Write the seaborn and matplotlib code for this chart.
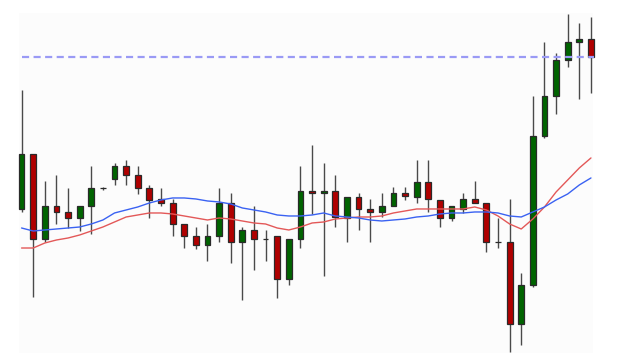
import numpy as np
import pandas as pd
import seaborn as sns
from matplotlib import pyplot as plt

# OHLC candles (arbitrary price units)
opens = [151, 206, 121, 154, 148, 142, 154, 172, 181, 194,
         185, 172, 161, 157, 136, 124, 115, 124, 157, 118,
         130, 121, 124, 81, 121, 169, 167, 169, 142, 163,
         151, 148, 154, 167, 163, 178, 160, 142, 151, 161,
         157, 118, 118, 36, 75, 224, 264, 300, 318, 321]
highs = [270, 206, 179, 185, 172, 154, 194, 173, 197, 200,
         194, 175, 172, 161, 136, 133, 136, 172, 167, 133,
         154, 130, 124, 121, 194, 215, 197, 185, 163, 167,
         161, 167, 173, 173, 200, 200, 160, 154, 167, 179,
         157, 142, 161, 87, 264, 318, 307, 346, 337, 343]
lows = [148, 63, 118, 136, 132, 129, 126, 170, 175, 175,
        166, 142, 154, 124, 112, 111, 99, 118, 97, 60,
        90, 99, 62, 75, 112, 146, 84, 133, 118, 130,
        118, 143, 154, 160, 157, 148, 133, 139, 147, 157,
        108, 112, 8, 15, 73, 222, 246, 293, 261, 267]
closes = [206, 121, 154, 148, 142, 154, 172, 172, 194, 185,
          172, 160, 157, 136, 124, 115, 124, 157, 118, 130,
          121, 121, 81, 121, 169, 167, 169, 143, 163, 151,
          148, 154, 167, 164, 178, 161, 142, 154, 161, 157,
          118, 118, 36, 75, 224, 264, 300, 318, 321, 303]

# two moving averages
ma_blue = [132, 129, 130, 131, 132, 133, 136, 140, 147, 150,
           153, 157, 160, 162, 162, 161, 159, 158, 156, 152,
           150, 148, 145, 144, 144, 145, 147, 144, 143, 142,
           140, 139, 140, 141, 143, 144, 146, 147, 147, 148,
           148, 147, 144, 143, 148, 153, 160, 166, 175, 182]
ma_red = [112, 112, 117, 120, 122, 125, 129, 133, 138, 143,
          145, 147, 147, 146, 144, 142, 140, 142, 141, 139,
          137, 136, 132, 130, 133, 137, 138, 141, 142, 143,
          143, 144, 147, 149, 151, 151, 151, 151, 151, 153,
          150, 144, 136, 131, 141, 153, 168, 180, 192, 202]

level = 303

df = pd.DataFrame({"open": opens, "high": highs, "low": lows, "close": closes,
                   "ma_blue": ma_blue, "ma_red": ma_red})
df["idx"] = np.arange(len(df))

sns.set_style("white")
fig = plt.figure(figsize=(6.18, 3.57), dpi=100)
ax = fig.add_axes([0.030, 0.011, 0.930, 0.953])
ax.set_facecolor("#fcfcfc")

# wicks
ax.vlines(df["idx"], df["low"], df["high"], color="#4a4a4a", lw=1, zorder=2,
          clip_on=False)

# bodies
up = df["close"] >= df["open"]
colors = np.where(up, "#006400", "#b00000")
bottoms = np.minimum(df["open"], df["close"])
heights = (df["close"] - df["open"]).abs()
bars = ax.bar(df["idx"], heights, bottom=bottoms, width=0.5, color=colors,
              edgecolor="#2a2a2a", linewidth=0.9, zorder=3)
for b in bars:
    b.set_clip_on(False)

# moving averages (drawn over the candles)
sns.lineplot(data=df, x="idx", y="ma_red", color="#e35858", lw=1.0, ax=ax, zorder=4)
sns.lineplot(data=df, x="idx", y="ma_blue", color="#3a62f2", lw=1.0, ax=ax, zorder=4)

# dashed level
ax.plot([0, 49.3], [level, level], color="#9a9af5", lw=1.6, ls=(0, (3.2, 2)),
        zorder=5, clip_on=False)

ax.set_xlim(-0.26, 49.2)
ax.set_ylim(7, 347)
ax.set_xticks([])
ax.set_yticks([])
ax.set_xlabel("")
ax.set_ylabel("")
for s in ax.spines.values():
    s.set_visible(False)

fig.savefig("out.png", dpi=100)
